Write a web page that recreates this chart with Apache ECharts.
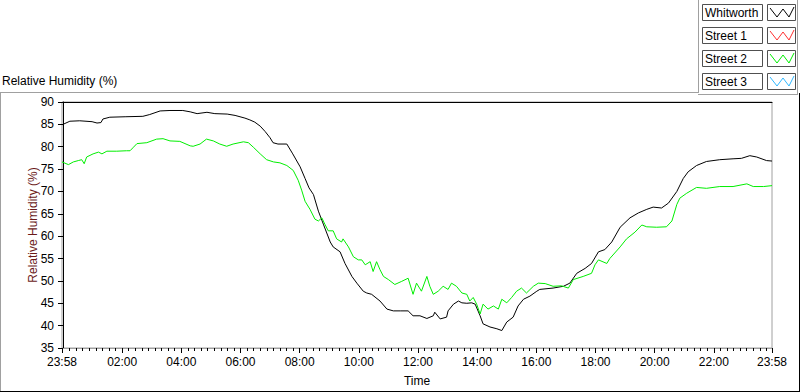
<!DOCTYPE html>
<html>
<head>
<meta charset="utf-8">
<script src="https://cdn.jsdelivr.net/npm/echarts@6/dist/echarts.min.js"></script>
<style>html,body{margin:0;padding:0;background:#fff}#c{width:800px;height:392px}</style>
</head>
<body>
<div id="c"></div>
<script>
// minutes relative to midnight (-2 = 23:58 of previous day)
var whitworthTime = [-2,14,34,59,69,77,81,95,126,162,176,197,217,243,258,272,292,308,333,349,369,379,389,400,410,420,426,436,454,466,481,491,499,508,518,528,542,548,562,572,586,596,609,616,626,643,657,670,684,700,710,724,738,751,754,765,778,781,792,802,809,819,829,836,846,852,866,880,890,900,913,923,934,947,961,967,994,1015,1028,1042,1059,1072,1086,1099,1113,1130,1150,1167,1184,1197,1214,1228,1245,1258,1268,1285,1305,1332,1359,1376,1393,1407,1427,1438];
var whitworthVal = [84.9,85.7,85.8,85.6,85.3,85.4,86.2,86.6,86.7,86.8,87.2,88.0,88.1,88.1,87.8,87.4,87.7,87.4,87.3,87.0,86.4,86.0,85.5,84.6,83.4,82.0,80.9,80.6,80.6,78.4,75.5,72.9,70.8,69.3,65.6,62.7,58.7,57.6,56.5,53.9,51.0,49.5,47.7,47.3,47.0,45.5,43.7,43.3,43.3,43.3,42.2,42.2,41.6,42.2,43.0,41.5,41.9,43.3,44.8,45.5,45.1,45.0,45.1,44.8,42.2,40.4,39.7,39.3,38.9,40.8,41.9,44.4,45.9,46.6,47.7,48.1,48.4,48.8,49.5,51.7,52.8,53.9,56.5,57.0,58.7,62.0,64.1,65.2,66.0,66.5,66.3,67.4,70.0,72.9,74.4,75.8,76.7,77.1,77.3,77.4,78.0,77.7,76.9,76.8];
var street2Time = [-2,11,21,31,38,43,48,61,72,79,89,109,129,136,143,150,170,190,203,217,237,258,264,278,291,305,318,332,345,366,376,386,400,413,427,440,454,467,477,484,491,501,511,518,525,531,538,548,555,565,568,579,589,599,606,613,623,629,636,643,650,660,673,687,700,710,717,727,738,744,751,761,771,781,788,798,809,819,825,832,839,846,852,862,873,883,890,900,910,920,930,940,954,964,978,994,1011,1025,1035,1055,1072,1079,1086,1103,1109,1130,1143,1160,1174,1184,1204,1224,1235,1245,1251,1265,1285,1305,1332,1359,1387,1400,1421,1438];
var street2Val = [76.6,76.0,76.6,76.9,77.1,76.2,77.7,78.4,78.8,78.4,79.0,79.0,79.1,79.1,79.9,80.7,80.9,81.7,81.8,81.3,81.2,80.2,80.1,80.6,81.7,81.3,80.6,80.1,80.6,81.1,80.9,79.9,78.4,77.1,76.6,76.4,75.8,74.7,72.5,70.3,67.8,66.0,63.8,63.4,64.1,62.7,61.2,61.2,59.4,58.7,59.4,57.6,55.4,54.7,54.7,53.6,54.3,52.1,54.3,52.5,51.0,50.3,49.2,49.9,50.6,47.0,49.5,47.7,51.0,48.8,47.0,47.7,48.8,48.1,49.5,48.8,47.3,47.0,45.5,46.3,44.8,42.6,44.8,43.7,44.4,43.7,45.9,45.1,46.3,47.7,48.4,47.3,48.8,49.5,49.4,48.8,48.9,48.4,50.3,51.0,51.7,53.6,54.7,53.9,55.0,57.6,59.4,60.9,62.5,62.1,62.0,62.1,63.4,67.1,68.5,69.6,70.9,70.7,71.1,71.1,71.7,71.1,71.1,71.3];
var street1Time = [], street1Val = [];
var street3Time = [], street3Val = [];
var seriesNames = ['Whitworth', 'Street 1', 'Street 2', 'Street 3'];
var seriesColors = ['#000000', '#ff3030', '#00ee00', '#30b8ff'];
var xTickValues = [-2,120,240,360,480,600,720,840,960,1080,1200,1320,1438];
var yMin = 35, yMax = 90, yStep = 5;
var xMin = -2, xMax = 1438;

function zip(t, v) { return t.map(function (x, i) { return [x, v[i]]; }); }
function fmtTime(v) {
  var m = Math.round(v); if (m < 0) m += 1440;
  var h = Math.floor(m / 60), mm = m % 60;
  return (h < 10 ? '0' : '') + h + ':' + (mm < 10 ? '0' : '') + mm;
}
var minorTicks = [];
for (var k = 0; k < 12; k++) {
  for (var j = 1; j <= 8; j++) {
    var t = k * 120 + j * 120 / 9;
    if (t < xMax - 1) minorTicks.push(t);
  }
}
var FONT = '"Liberation Sans", Arial, sans-serif';
var chart = echarts.init(document.getElementById('c'), null, { renderer: 'svg' });

var legendGraphics = [];
var rowY = [4, 27, 50, 73];
seriesNames.forEach(function (name, i) {
  var y0 = rowY[i];
  legendGraphics.push({ type: 'rect', shape: { x: 702.5, y: y0 + 0.5, width: 60, height: 16 }, style: { fill: '#fff', stroke: '#505050', lineWidth: 1 } });
  legendGraphics.push({ type: 'text', x: 705, y: y0 + 9, style: { text: name, fill: '#000', font: '12px ' + FONT, verticalAlign: 'middle' } });
  legendGraphics.push({ type: 'rect', shape: { x: 767.5, y: y0 + 0.5, width: 28, height: 16 }, style: { fill: '#fff', stroke: '#505050', lineWidth: 1 } });
  legendGraphics.push({ type: 'polyline', shape: { points: [[770, y0 + 4], [777, y0 + 13], [783, y0 + 5], [789, y0 + 13], [794, y0 + 3]] }, style: { stroke: seriesColors[i], lineWidth: 1, fill: null } });
});

var frame = [
  { type: 'line', shape: { x1: 0.5, y1: 92, x2: 0.5, y2: 391 }, style: { stroke: '#a0a0a0', lineWidth: 1 } },
  { type: 'line', shape: { x1: 0, y1: 92.5, x2: 698, y2: 92.5 }, style: { stroke: '#a0a0a0', lineWidth: 1 } },
  { type: 'line', shape: { x1: 698.5, y1: 0, x2: 698.5, y2: 93 }, style: { stroke: '#a0a0a0', lineWidth: 1 } },
  { type: 'line', shape: { x1: 698, y1: 94.5, x2: 798, y2: 94.5 }, style: { stroke: '#a0a0a0', lineWidth: 1 } },
  { type: 'line', shape: { x1: 797.5, y1: 0, x2: 797.5, y2: 95 }, style: { stroke: '#a0a0a0', lineWidth: 1 } },
  { type: 'line', shape: { x1: 799.5, y1: 93, x2: 799.5, y2: 392 }, style: { stroke: '#000', lineWidth: 1 } },
  { type: 'line', shape: { x1: 0, y1: 391.5, x2: 800, y2: 391.5 }, style: { stroke: '#000', lineWidth: 1 } }
];

var times = [whitworthTime, street1Time, street2Time, street3Time];
var vals = [whitworthVal, street1Val, street2Val, street3Val];

chart.setOption({
  backgroundColor: '#fff',
  animation: false,
  textStyle: { fontFamily: FONT },
  title: { text: 'Relative Humidity (%)', left: 2, top: 75, padding: 0, textStyle: { fontSize: 12, fontWeight: 'normal', color: '#000', fontFamily: FONT } },
  grid: { left: 62, right: 28, top: 102, bottom: 39, show: true, borderColor: '#a0a0a0', borderWidth: 1, backgroundColor: '#fff' },
  xAxis: [
    {
      type: 'value', min: xMin, max: xMax, position: 'bottom', offset: 0,
      name: 'Time', nameLocation: 'middle', nameGap: 27, nameMoveOverlap: false,
      nameTextStyle: { fontSize: 12, color: '#000', fontFamily: FONT },
      axisLine: { show: true, lineStyle: { color: '#a0a0a0', width: 1 } },
      axisTick: { show: true, length: 5, customValues: xTickValues, lineStyle: { color: '#000' } },
      axisLabel: { show: true, customValues: xTickValues, formatter: fmtTime, fontSize: 12, color: '#000', margin: 8, fontFamily: FONT, showMinLabel: true, showMaxLabel: true },
      splitLine: { show: false }
    },
    {
      type: 'value', min: xMin, max: xMax, position: 'bottom', offset: 0,
      axisLine: { show: false },
      axisTick: { show: true, length: 3, customValues: minorTicks, lineStyle: { color: '#000' } },
      axisLabel: { show: false },
      splitLine: { show: false }
    },
    {
      type: 'value', min: xMin, max: xMax, position: 'top', offset: 0,
      axisLine: { show: true, lineStyle: { color: '#000', width: 1 } },
      axisTick: { show: false }, axisLabel: { show: false }, splitLine: { show: false }
    }
  ],
  yAxis: {
    type: 'value', min: yMin, max: yMax, interval: yStep,
    name: 'Relative Humidity (%)', nameLocation: 'middle', nameGap: 23, nameRotate: 90, nameMoveOverlap: false,
    nameTextStyle: { fontSize: 12, color: '#6b1a1a', fontFamily: FONT },
    axisLine: { show: true, lineStyle: { color: '#000', width: 1 } },
    axisTick: { show: true, length: 5, lineStyle: { color: '#000' } },
    axisLabel: { fontSize: 12, color: '#000', margin: 8, fontFamily: FONT },
    splitLine: { show: false }
  },
  series: seriesNames.map(function (name, i) {
    return {
      name: name, type: 'line', xAxisIndex: 0, data: zip(times[i], vals[i]),
      showSymbol: false, symbol: 'none', smooth: false,
      lineStyle: { color: seriesColors[i], width: 1 },
      itemStyle: { color: seriesColors[i] }
    };
  }),
  graphic: frame.concat(legendGraphics)
});
</script>
</body>
</html>
